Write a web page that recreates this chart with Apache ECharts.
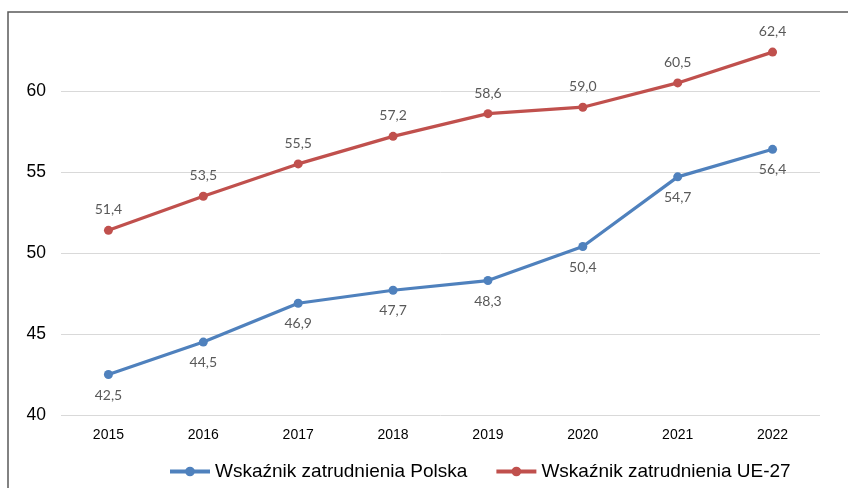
<!DOCTYPE html>
<html>
<head>
<meta charset="utf-8">
<script src="https://cdn.jsdelivr.net/npm/echarts@6/dist/echarts.min.js"></script>
<style>
  html, body { margin: 0; padding: 0; background: #ffffff; }
  #chart { width: 848px; height: 488px; }
</style>
</head>
<body>
<div id="chart"></div>
<script>
// Employment rate, Poland vs EU-27 (%)
const years = ['2015', '2016', '2017', '2018', '2019', '2020', '2021', '2022'];
const polska = [42.5, 44.5, 46.9, 47.7, 48.3, 50.4, 54.7, 56.4];
const ue27 = [51.4, 53.5, 55.5, 57.2, 58.6, 59.0, 60.5, 62.4];
const seriesNames = ['Wskaźnik zatrudnienia Polska', 'Wskaźnik zatrudnienia UE-27'];
const yTicks = [40, 45, 50, 55, 60];

const fmt = v => v.toFixed(1).replace('.', ',');

const chart = echarts.init(document.getElementById('chart'), null, { renderer: 'canvas' });

const labelStyle = {
  show: true,
  color: '#595959',
  fontFamily: 'Lato, "Open Sans", sans-serif',
  fontSize: 14,
  distance: 9,
  formatter: p => fmt(p.value)
};

chart.setOption({
  animation: false,
  backgroundColor: '#ffffff',
  graphic: [{
    type: 'rect',
    shape: { x: 8, y: 12, width: 900, height: 600 },
    style: { fill: 'none', stroke: '#5a5a5a', lineWidth: 1.5 },
    silent: true
  }],
  grid: { left: 61, right: 28, top: 91, bottom: 73 },
  legend: {
    bottom: 2,
    left: 163,
    itemWidth: 40,
    itemHeight: 12,
    itemGap: 27,
    lineStyle: { width: 4 },
    textStyle: { fontFamily: '"Liberation Sans", Arial, sans-serif', fontSize: 19, color: '#000000' },
    data: seriesNames
  },
  xAxis: {
    type: 'category',
    data: years,
    boundaryGap: true,
    axisLine: { show: false },
    axisTick: { show: false },
    axisLabel: { color: '#000000', fontSize: 14, fontFamily: '"Liberation Sans", Arial, sans-serif', margin: 13 }
  },
  yAxis: {
    type: 'value',
    min: yTicks[0],
    max: yTicks[yTicks.length - 1],
    interval: 5,
    axisLine: { show: false },
    axisTick: { show: false },
    axisLabel: { color: '#000000', fontSize: 17.5, fontFamily: '"Liberation Sans", Arial, sans-serif', margin: 15 },
    splitLine: { lineStyle: { color: '#d9d9d9', width: 1 } }
  },
  series: [
    {
      name: seriesNames[0],
      type: 'line',
      data: polska,
      clip: false,
      symbol: 'circle',
      symbolSize: 9,
      lineStyle: { color: '#4f81bd', width: 3.2 },
      itemStyle: { color: '#4f81bd' },
      label: Object.assign({ position: 'bottom' }, labelStyle)
    },
    {
      name: seriesNames[1],
      type: 'line',
      data: ue27,
      clip: false,
      symbol: 'circle',
      symbolSize: 9,
      lineStyle: { color: '#c0504d', width: 3.2 },
      itemStyle: { color: '#c0504d' },
      label: Object.assign({ position: 'top' }, labelStyle)
    }
  ]
});
</script>
</body>
</html>
